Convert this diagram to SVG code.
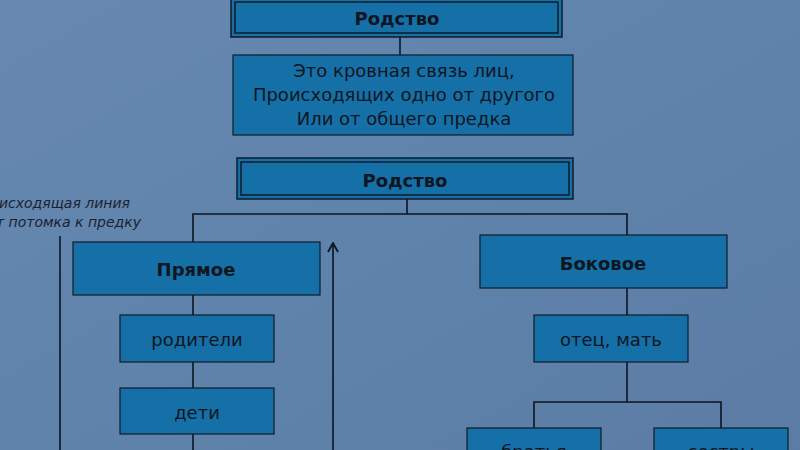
<svg xmlns="http://www.w3.org/2000/svg" width="800" height="450" viewBox="0 0 800 450">
  <defs>
    <linearGradient id="bg" x1="0" y1="0" x2="1" y2="1">
      <stop offset="0" stop-color="#6789b0"/>
      <stop offset="0.5" stop-color="#6083ab"/>
      <stop offset="1" stop-color="#5a7ca5"/>
    </linearGradient>
    <marker id="arrow" viewBox="0 0 12 12" refX="11" refY="6" markerWidth="12" markerHeight="12" markerUnits="userSpaceOnUse" orient="auto">
      <path d="M2,1 L11,6 L2,11" fill="none" stroke="#0d1420" stroke-width="1.8"/>
    </marker>
  </defs>
  <style>
    .box { fill: #1570a7; stroke: #101a28; stroke-width: 1.2; }
    .outer { fill: #1570a7; stroke: #101a28; stroke-width: 1.5; }
    .inner { fill: #1570a7; stroke: #101a28; stroke-width: 1.5; }
    .line { fill: none; stroke: #0d1420; stroke-width: 1.6; }
    .t { font-family: "DejaVu Sans", Verdana, sans-serif; fill: #0e1622; text-anchor: middle; }
    .b { font-weight: bold; font-size: 18px; }
    .n { font-size: 18px; }
    .note { font-family: "DejaVu Sans", Verdana, sans-serif; font-style: italic; font-size: 14px; fill: #1a2230; text-anchor: end; }
  </style>
  <rect width="800" height="450" fill="url(#bg)"/>

  <g id="connectors">
    <line class="line" x1="400" y1="37" x2="400" y2="55"/>
    <polyline class="line" points="407,199 407,214"/>
    <polyline class="line" points="193,242 193,214 627,214 627,235"/>
    <line class="line" x1="193" y1="295" x2="193" y2="315"/>
    <line class="line" x1="193" y1="362" x2="193" y2="388"/>
    <line class="line" x1="193" y1="434" x2="193" y2="450"/>
    <line class="line" x1="627" y1="288" x2="627" y2="315"/>
    <line class="line" x1="627" y1="362" x2="627" y2="402"/>
    <polyline class="line" points="534,428 534,402 721,402 721,428"/>
    <line class="line" x1="60" y1="236" x2="60" y2="450"/>
    <line class="line" x1="333" y1="450" x2="333" y2="243" marker-end="url(#arrow)"/>
  </g>

  <g id="note">
    <text class="note" x="130" y="208">Нисходящая линия</text>
    <text class="note" x="141" y="227">от потомка к предку</text>
  </g>

  <g id="rodstvo-top">
    <rect class="outer" x="231" y="-2" width="331" height="39"/>
    <rect class="inner" x="235" y="2" width="323" height="31"/>
    <text class="t b" x="397" y="25">Родство</text>
  </g>

  <g id="definition">
    <rect class="box" x="233" y="55" width="340" height="80"/>
    <text class="t n" x="404" y="77">Это кровная связь лиц,</text>
    <text class="t n" x="404" y="101">Происходящих одно от другого</text>
    <text class="t n" x="404" y="125">Или от общего предка</text>
  </g>

  <g id="rodstvo-mid">
    <rect class="outer" x="237" y="158" width="336" height="41"/>
    <rect class="inner" x="241" y="162" width="328" height="33"/>
    <text class="t b" x="405" y="187">Родство</text>
  </g>

  <g id="pryamoe">
    <rect class="box" x="73" y="242" width="247" height="53"/>
    <text class="t b" x="196" y="276">Прямое</text>
  </g>

  <g id="roditeli">
    <rect class="box" x="120" y="315" width="154" height="47"/>
    <text class="t n" x="197" y="346">родители</text>
  </g>

  <g id="deti">
    <rect class="box" x="120" y="388" width="154" height="46"/>
    <text class="t n" x="197" y="419">дети</text>
  </g>

  <g id="bokovoe">
    <rect class="box" x="480" y="235" width="247" height="53"/>
    <text class="t b" x="603" y="270">Боковое</text>
  </g>

  <g id="otec-mat">
    <rect class="box" x="534" y="315" width="154" height="47"/>
    <text class="t n" x="611" y="346">отец, мать</text>
  </g>

  <g id="bratya">
    <rect class="box" x="467" y="428" width="134" height="40"/>
    <text class="t n" x="534" y="458">братья</text>
  </g>

  <g id="sestry">
    <rect class="box" x="654" y="428" width="134" height="40"/>
    <text class="t n" x="721" y="458">сестры</text>
  </g>
</svg>
